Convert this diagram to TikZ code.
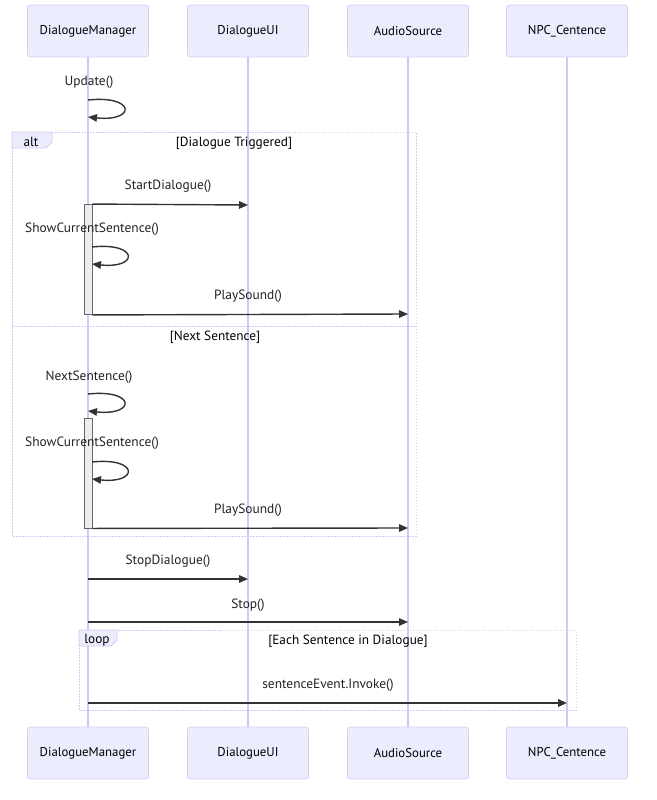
\documentclass[tikz,border=0pt]{standalone}
\usepackage{fontspec}
\setmainfont{PT Sans}
\usetikzlibrary{arrows.meta}

\definecolor{actorfill}{HTML}{ECECFF}
\definecolor{actorline}{HTML}{DACEF3}
\definecolor{lifecol}{HTML}{D3C8F2}
\definecolor{framecol}{HTML}{D3C8F2}
\definecolor{msgcol}{HTML}{333333}
\definecolor{msgtext}{HTML}{222222}
\definecolor{actfill}{HTML}{EDEDED}
\definecolor{actstroke}{HTML}{666666}

\tikzset{
  actor/.style={draw=actorline, fill=actorfill, rounded corners=3pt,
    minimum width=121pt, minimum height=52pt, line width=0.8pt,
    font=\fontsize{12.8}{15}\selectfont, text=black},
  lifeline/.style={draw=lifecol, line width=1.2pt},
  msg/.style={draw=msgcol, line width=1.4pt, -{Triangle[length=9pt,width=7.5pt]}},
  msgtxt/.style={font=\fontsize{13.4}{15}\selectfont, text=msgtext, inner sep=0pt, yshift=-1.5pt},
  guard/.style={font=\fontsize{13.3}{15}\selectfont, text=black, inner sep=0pt, yshift=-1pt},
  framebox/.style={draw=framecol, line width=1pt, dash pattern=on 1.5pt off 1.5pt},
  tagbox/.style={draw=framecol, fill=actorfill, line width=0.8pt},
  activation/.style={draw=actstroke, fill=actfill, line width=0.9pt},
}

\begin{document}
\begin{tikzpicture}[x=1pt, y=-1pt]
\useasboundingbox (0,0) rectangle (656,800);

% participants, top and bottom
\node[actor] (dmT) at (88,31) {DialogueManager};
\node[actor] (uiT) at (248,31) {DialogueUI};
\node[actor] (asT) at (408,31) {AudioSource};
\node[actor] (npT) at (567,31) {NPC\_Centence};
\node[actor] (dmB) at (88,753) {DialogueManager};
\node[actor] (uiB) at (248,753) {DialogueUI};
\node[actor] (asB) at (408,753) {AudioSource};
\node[actor] (npB) at (567,753) {NPC\_Centence};

% lifelines
\draw[lifeline] (dmT.south) -- (dmB.north);
\draw[lifeline] (uiT.south) -- (uiB.north);
\draw[lifeline] (asT.south) -- (asB.north);
\draw[lifeline] (npT.south) -- (npB.north);

% alt frame with its divider
\draw[framebox] (12,132) rectangle (416,536);
\draw[framebox] (12,326) -- (416,326);
\draw[tagbox] (12,132) -- (52,132) -- (52,142) -- (46,148) -- (12,148) -- cycle;
\node[guard] (altTag) at (31,141) {alt};
\node[guard] (g1) at (234,142) {[Dialogue Triggered]};
\node[guard] (g2) at (215,336) {[Next Sentence]};

% loop frame
\draw[framebox] (79,630) rectangle (576,710);
\draw[tagbox] (79,630) -- (117,630) -- (117,640) -- (111,646) -- (79,646) -- cycle;
\node[guard] (loopTag) at (97,639) {loop};
\node[guard] (g3) at (348,640) {[Each Sentence in Dialogue]};

% activation bars
\node[activation, minimum width=8pt, minimum height=110pt, inner sep=0pt] (act1) at (88,259.5) {};
\node[activation, minimum width=8pt, minimum height=110pt, inner sep=0pt] (act2) at (88,473) {};

% message end points on the lifelines
\coordinate (u1a) at (88,100);  \coordinate (u1b) at (88,117);
\coordinate (s1a) at (92,247);  \coordinate (s1b) at (92,264);
\coordinate (n1a) at (88,394);  \coordinate (n1b) at (88,411);
\coordinate (s2a) at (92,462);  \coordinate (s2b) at (92,479);
\coordinate (uiStart) at (248,205);
\coordinate (asPlay1) at (408,314);
\coordinate (asPlay2) at (408,528);
\coordinate (dmStop) at (88,579);  \coordinate (uiStop) at (248,579);
\coordinate (dmHalt) at (88,622);  \coordinate (asHalt) at (408,622);
\coordinate (dmEv) at (88,703);    \coordinate (npEv) at (567,703);

% messages
\node[msgtxt] (l1) at (89,81) {Update()};
\draw[msg] (u1a) .. controls +(48,-5) and +(48,5) .. (u1b);

\node[msgtxt] (l2) at (168,185) {StartDialogue()};
\draw[msg] (act1.north east) -- (uiStart);

\node[msgtxt] (l3) at (92,228) {ShowCurrentSentence()};
\draw[msg] (s1a) .. controls +(47,-5) and +(47,5) .. (s1b);

\node[msgtxt] (l4) at (248,295) {PlaySound()};
\draw[msg] (act1.south east) -- (asPlay1);

\node[msgtxt] (l5) at (89,376) {NextSentence()};
\draw[msg] (n1a) .. controls +(48,-5) and +(48,5) .. (n1b);

\node[msgtxt] (l6) at (92,442) {ShowCurrentSentence()};
\draw[msg] (s2a) .. controls +(47,-5) and +(47,5) .. (s2b);

\node[msgtxt] (l7) at (248,509) {PlaySound()};
\draw[msg] (act2.south east) -- (asPlay2);

\node[msgtxt] (l8) at (168,560) {StopDialogue()};
\draw[msg] (dmStop) -- (uiStop);

\node[msgtxt] (l9) at (248,604) {Stop()};
\draw[msg] (dmHalt) -- (asHalt);

\node[msgtxt] (l10) at (328,684) {sentenceEvent.Invoke()};
\draw[msg, line width=2pt] (dmEv) -- (npEv);
\end{tikzpicture}
\end{document}
